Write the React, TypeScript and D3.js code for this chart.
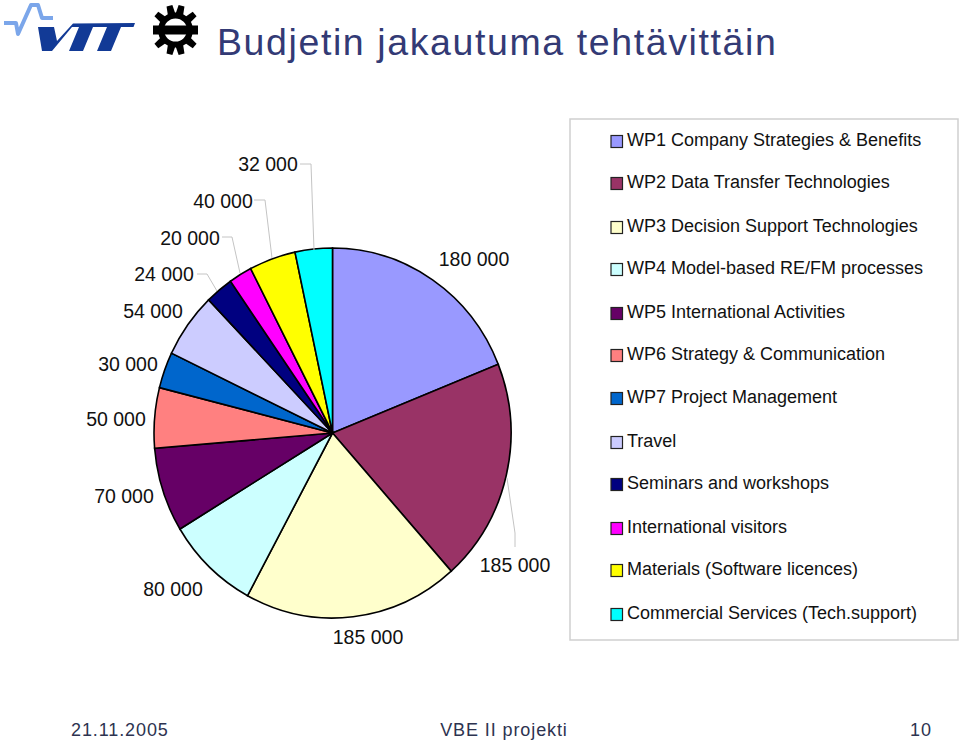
import React from 'react';
import * as d3 from 'd3';

const names = ['WP1 Company Strategies & Benefits','WP2 Data Transfer Technologies','WP3 Decision Support Technologies','WP4 Model-based RE/FM processes','WP5 International Activities','WP6 Strategy & Communication','WP7 Project Management','Travel','Seminars and workshops','International visitors','Materials (Software licences)','Commercial Services (Tech.support)'];
const values = [180000,185000,185000,80000,70000,50000,30000,54000,24000,20000,40000,32000];
const colors = ['#9999ff','#993366','#ffffcc','#ccffff','#660066','#ff8080','#0066cc','#ccccff','#000080','#ff00ff','#ffff00','#00ffff'];
const labelPos: [number, number][] = [[474,259],[515,565],[368,637],[173,589],[124,496],[116,419],[128,364],[153,311],[164,274],[190,238],[223,201],[268,164]];
const legendY = [140,182,226,268,312,354,397,441,483,527,569,613];
const leaders: [number, number][][] = [
  [[515,547],[515,533],[507,478]],
  [[197,274],[207,274],[217,291]],
  [[222,237],[232,237],[240,273]],
  [[254,200],[265,200],[272,258]],
  [[300,164],[311,164],[314,250]],
];
const gearAngles = [14,50,130,166,194,230,310,346];
const title = 'Budjetin jakautuma tehtävittäin';
const footer: [string, number, string][] = [['21.11.2005',71,'start'],['VBE II projekti',504,'middle'],['10',921,'middle']];

const fmt = (v: number) => d3.format(',')(v).replace(/,/g, ' ');
const sans = '"Liberation Sans", Arial, sans-serif';

export default function App() {
  const pie = d3.pie<number>().sort(null).startAngle(0).endAngle(2 * Math.PI)(values);
  const arc = d3.arc<d3.PieArcDatum<number>>().innerRadius(0).outerRadius(179);
  const line = d3.line();
  const cx = 332.5, cy = 433;
  return (
    <svg width={960} height={741} style={{ position: 'absolute', left: 0, top: 0, background: '#fff' }} fontFamily={sans}>
      {/* VTT logo */}
      <path d="M4 23 L16 23 L18 34 L31 5 L38 5 L42 18 L53 18" fill="none" stroke="#7ba6ea" strokeWidth={4} strokeLinejoin="round" />
      <path d="M73 23.5 L135 23 L133.5 27 L121 27 L111 51 L97 51 L107 27 L93 27 L83 51 L69 51 L79 27 L72 27 L52 51 L42 51 L38 27 L54 27 L57 41 Z" fill="#123a96" />
      {/* University gear */}
      <g transform="translate(175.5,30)">
        {gearAngles.map(a => <path key={a} d="M-4 -14 L4 -14 L3 -25 L-3 -25 Z" fill="#000" transform={`rotate(${a})`} />)}
        <circle r={14.5} fill="none" stroke="#000" strokeWidth={6} />
        <rect x={-22.5} y={-4.5} width={45} height={9} fill="#000" />
      </g>
      <text x={217} y={55} fontSize={37.5} letterSpacing={1.6} fill="#333a75">{title}</text>

      {/* Pie */}
      <g transform={`translate(${cx},${cy}) scale(${178.5 / 179},${185 / 179})`}>
        {pie.map((d, i) => <path key={i} d={arc(d) ?? ''} fill={colors[i]} stroke="#000" strokeWidth={1.6} />)}
      </g>
      {leaders.map((l, i) => <path key={i} d={line(l) ?? ''} fill="none" stroke="#c4c4c4" strokeWidth={1} />)}
      {values.map((v, i) => (
        <text key={i} x={labelPos[i][0]} y={labelPos[i][1] + 7} fontSize={19.5} textAnchor="middle" fill="#111">{fmt(v)}</text>
      ))}

      {/* Legend */}
      <rect x={570} y={119} width={388} height={521} fill="#fff" stroke="#cfcfcf" strokeWidth={1.5} />
      {names.map((n, i) => (
        <g key={n}>
          <rect x={611} y={legendY[i] - 4.5} width={11.5} height={12} fill={colors[i]} stroke="#222" strokeWidth={1.2} />
          <text x={627} y={legendY[i] + 6} fontSize={18} fill="#111">{n}</text>
        </g>
      ))}

      {/* Footer */}
      {footer.map(([t, x, a]) => (
        <text key={t} x={x} y={736} fontSize={18} letterSpacing={0.9} textAnchor={a as 'start'} fill="#2d3350">{t}</text>
      ))}
    </svg>
  );
}
